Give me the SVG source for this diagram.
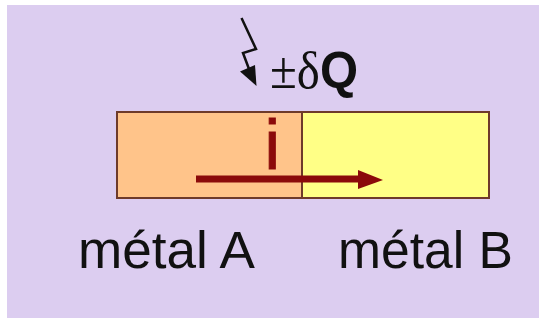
<svg xmlns="http://www.w3.org/2000/svg" width="539" height="323" viewBox="0 0 539 323">
<style>
.lbl{font-family:"Liberation Sans",Arial,sans-serif;font-size:51px;fill:#111}
.box{stroke:#6e3a2a;stroke-width:2}
</style>
<rect width="539" height="323" fill="#ffffff"/>
<rect x="7" y="5" width="532" height="313" fill="#dccdf0"/>
<g id="metalA">
<rect class="box" x="117" y="112" width="185" height="86" fill="#ffc48a"/>
<text class="lbl" x="78" y="268" textLength="177" lengthAdjust="spacingAndGlyphs">métal A</text>
</g>
<g id="metalB">
<rect class="box" x="302" y="112" width="187" height="86" fill="#ffff86"/>
<text class="lbl" x="338" y="268" textLength="175" lengthAdjust="spacingAndGlyphs">métal B</text>
</g>
<g id="heat">
<polyline points="241.5,18 256,49 243,53 249,69" fill="none" stroke="#111" stroke-width="2.5"/>
<polygon points="256.5,86 240,71.5 255,65" fill="#111"/>
<text x="270" y="88" font-size="52" fill="#111" textLength="88" lengthAdjust="spacingAndGlyphs"><tspan font-family="Liberation Serif,serif">±δ</tspan><tspan font-family="Liberation Sans,sans-serif" font-weight="bold">Q</tspan></text>
</g>
<g id="connectors">
<line x1="196" y1="179" x2="362" y2="179" stroke="#8b0a0a" stroke-width="7"/>
<polygon points="383,180 358,170 358,189" fill="#8b0a0a"/>
<text x="264.5" y="169" font-family="Liberation Sans,sans-serif" font-size="70" fill="#8b0a0a" stroke="#8b0a0a" stroke-width="1">i</text>
</g>
</svg>
